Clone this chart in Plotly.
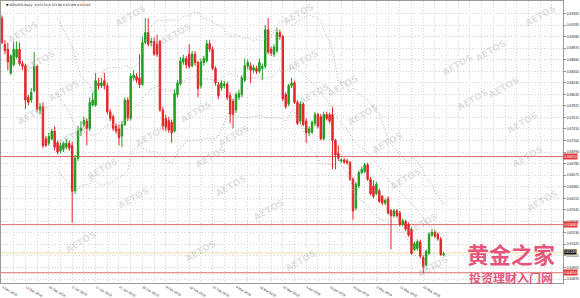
import plotly.graph_objects as go
import pandas as pd

# ---------------- data ----------------
opens = [0.6941,0.6894,0.6885,0.6842,0.6857,0.6871,0.6885,0.6859,0.6855,0.6798,
         0.6793,0.6810,0.6854,0.6775,0.6781,0.6723,0.6715,0.6723,0.6737,0.6716,
         0.6701,0.6704,0.6708,0.6715,0.6711,0.6629,0.6688,0.6737,0.6749,0.6755,
         0.6742,0.6784,0.6784,0.6824,0.6819,0.6828,0.6819,0.6772,0.6763,0.6746,
         0.6741,0.6728,0.6749,0.6793,0.6760,0.6833,0.6836,0.6833,0.6821,0.6897,
         0.6915,0.6897,0.6899,0.6894,0.6899,0.6775,0.6760,0.6756,0.6753,0.6737,
         0.6803,0.6822,0.6862,0.6868,0.6876,0.6855,0.6876,0.6861,0.6819,0.6861,
         0.6864,0.6895,0.6885,0.6850,0.6821,0.6815,0.6819,0.6822,0.6801,0.6791,
         0.6775,0.6798,0.6803,0.6829,0.6854,0.6855,0.6847,0.6850,0.6845,0.6850,
         0.6854,0.6920,0.6885,0.6876,0.6882,0.6915,0.6908,0.6803,0.6786,0.6819,
         0.6824,0.6789,0.6755,0.6786,0.6755,0.6734,0.6735,0.6751,0.6767,0.6763,
         0.6723,0.6767,0.6767,0.6767,0.6720,0.6697,0.6683,0.6685,0.6683,0.6680,
         0.6650,0.6598,0.6638,0.6662,0.6664,0.6676,0.6650,0.6638,0.6624,0.6629,
         0.6619,0.6607,0.6615,0.6593,0.6584,0.6593,0.6589,0.6568,0.6574,0.6568,
         0.6560,0.6523,0.6525,0.6537,0.6509,0.6495,0.6516,0.6549,0.6554,0.6551,
         0.6542,0.6513]
highs = [0.6946,0.6902,0.6897,0.6876,0.6899,0.6899,0.6897,0.6864,0.6859,0.6803,
         0.6815,0.6880,0.6857,0.6788,0.6789,0.6728,0.6734,0.6741,0.6746,0.6720,
         0.6716,0.6718,0.6723,0.6720,0.6718,0.6694,0.6746,0.6755,0.6763,0.6760,
         0.6798,0.6807,0.6842,0.6833,0.6833,0.6842,0.6824,0.6777,0.6767,0.6751,
         0.6749,0.6755,0.6798,0.6798,0.6842,0.6847,0.6842,0.6876,0.6908,0.6941,
         0.6941,0.6906,0.6906,0.6911,0.6902,0.6781,0.6767,0.6763,0.6758,0.6812,
         0.6829,0.6871,0.6875,0.6873,0.6894,0.6882,0.6882,0.6864,0.6868,0.6873,
         0.6902,0.6902,0.6890,0.6854,0.6826,0.6829,0.6828,0.6826,0.6807,0.6796,
         0.6807,0.6812,0.6838,0.6868,0.6866,0.6861,0.6857,0.6855,0.6868,0.6859,
         0.6929,0.6941,0.6890,0.6894,0.6923,0.6920,0.6911,0.6807,0.6822,0.6833,
         0.6828,0.6793,0.6791,0.6789,0.6760,0.6746,0.6756,0.6772,0.6770,0.6768,
         0.6772,0.6772,0.6770,0.6781,0.6723,0.6711,0.6688,0.6688,0.6687,0.6683,
         0.6654,0.6645,0.6666,0.6673,0.6680,0.6680,0.6654,0.6648,0.6645,0.6633,
         0.6622,0.6615,0.6619,0.6596,0.6596,0.6596,0.6593,0.6579,0.6577,0.6572,
         0.6563,0.6537,0.6541,0.6541,0.6513,0.6523,0.6554,0.6560,0.6558,0.6554,
         0.6546,0.6519]
lows = [0.6894,0.6876,0.6847,0.6838,0.6854,0.6868,0.6855,0.6847,0.6777,0.6784,
        0.6788,0.6807,0.6772,0.6767,0.6706,0.6708,0.6711,0.6720,0.6702,0.6695,
        0.6697,0.6699,0.6704,0.6701,0.6572,0.6624,0.6683,0.6728,0.6744,0.6711,
        0.6737,0.6781,0.6781,0.6812,0.6815,0.6812,0.6767,0.6755,0.6737,0.6732,
        0.6711,0.6708,0.6746,0.6755,0.6756,0.6828,0.6824,0.6815,0.6819,0.6894,
        0.6890,0.6890,0.6873,0.6871,0.6772,0.6739,0.6737,0.6734,0.6716,0.6734,
        0.6798,0.6819,0.6857,0.6850,0.6850,0.6852,0.6855,0.6798,0.6814,0.6855,
        0.6861,0.6880,0.6847,0.6819,0.6795,0.6810,0.6814,0.6793,0.6751,0.6742,
        0.6770,0.6793,0.6798,0.6826,0.6849,0.6824,0.6842,0.6840,0.6842,0.6829,
        0.6850,0.6876,0.6873,0.6871,0.6878,0.6902,0.6791,0.6777,0.6782,0.6815,
        0.6786,0.6748,0.6749,0.6746,0.6716,0.6728,0.6732,0.6746,0.6742,0.6720,
        0.6720,0.6756,0.6751,0.6668,0.6668,0.6683,0.6680,0.6678,0.6676,0.6647,
        0.6577,0.6594,0.6634,0.6659,0.6661,0.6647,0.6621,0.6615,0.6621,0.6607,
        0.6603,0.6603,0.6586,0.6523,0.6581,0.6581,0.6565,0.6565,0.6556,0.6546,
        0.6513,0.6520,0.6521,0.6507,0.6480,0.6492,0.6513,0.6546,0.6544,0.6539,
        0.6511,0.6511]
closes = [0.6897,0.6882,0.6862,0.6873,0.6885,0.6885,0.6859,0.6854,0.6793,0.6789,
          0.6807,0.6854,0.6777,0.6781,0.6711,0.6711,0.6727,0.6737,0.6708,0.6699,
          0.6711,0.6715,0.6715,0.6706,0.6628,0.6688,0.6737,0.6742,0.6756,0.6742,
          0.6789,0.6793,0.6828,0.6819,0.6824,0.6819,0.6772,0.6760,0.6742,0.6737,
          0.6725,0.6749,0.6793,0.6760,0.6836,0.6838,0.6829,0.6821,0.6897,0.6915,
          0.6894,0.6899,0.6876,0.6876,0.6775,0.6746,0.6744,0.6739,0.6734,0.6805,
          0.6824,0.6864,0.6868,0.6857,0.6854,0.6876,0.6861,0.6814,0.6862,0.6868,
          0.6895,0.6885,0.6850,0.6824,0.6801,0.6824,0.6822,0.6798,0.6768,0.6767,
          0.6803,0.6805,0.6833,0.6855,0.6861,0.6847,0.6852,0.6845,0.6861,0.6854,
          0.6920,0.6880,0.6878,0.6889,0.6915,0.6908,0.6795,0.6781,0.6819,0.6824,
          0.6789,0.6751,0.6786,0.6749,0.6734,0.6741,0.6753,0.6767,0.6746,0.6723,
          0.6767,0.6760,0.6755,0.6720,0.6694,0.6688,0.6685,0.6681,0.6680,0.6650,
          0.6593,0.6641,0.6662,0.6668,0.6676,0.6650,0.6624,0.6619,0.6641,0.6610,
          0.6607,0.6612,0.6589,0.6584,0.6593,0.6584,0.6568,0.6575,0.6560,0.6549,
          0.6516,0.6534,0.6537,0.6511,0.6492,0.6520,0.6551,0.6554,0.6547,0.6542,
          0.6514,0.6515]

x_tick_bars = [0, 8, 16, 24, 32, 40, 48, 56, 64, 72, 80, 88, 96, 104, 112, 120, 128, 136, 144]
x_tick_labels = ["3 Dec 2018", "14 Dec 2018", "24 Dec 2018", "3 Jan 2019", "11 Jan 2019",
                 "21 Jan 2019", "30 Jan 2019", "8 Feb 2019", "18 Feb 2019", "27 Feb 2019",
                 "8 Mar 2019", "18 Mar 2019", "27 Mar 2019", "5 Apr 2019", "16 Apr 2019",
                 "24 Apr 2019", "3 May 2019", "13 May 2019", "22 May 2019"]
y_tick_labels = ["0.69495", "0.69285", "0.69080", "0.68870", "0.68660", "0.68450",
                 "0.68240", "0.68035", "0.67825", "0.67615", "0.67410", "0.67200",
                 "0.66990", "0.66780", "0.66575", "0.66365", "0.66155", "0.65945",
                 "0.65740", "0.65530", "0.65325", "0.65115", "0.64905", "0.64695"]
level_lines = [0.6691, 0.6568, 0.6481]
level_labels = ["0.66910", "0.65680", "0.64810"]
ask_line = 0.6517
last_label = "0.65149"
header_text = "\u25bc NZDUSD,Daily  0.65134 0.65190 0.65109 0.65149"

# ---------------- figure ----------------
W, H = 580, 298
ML, MR, MT, MB = 0, 17, 0, 5
PW, PH = W - ML - MR, H - MT - MB
Y_RANGE = [0.64625, 0.69721]
X_RANGE = [-0.34, 191.8]

bars = list(range(len(closes)))
cs = pd.Series(closes)
mid = cs.rolling(20).mean()
sd = cs.rolling(20).std(ddof=0)
upper = mid + 2 * sd
lower = mid - 2 * sd

GREEN = "#1f9d1f"
RED = "#e3262b"

fig = go.Figure()
for band in (upper, mid, lower):
    fig.add_trace(go.Scatter(x=bars, y=band, mode="lines",
                             line=dict(color="#a9a9a9", width=1, dash="1px,2px"),
                             hoverinfo="skip", showlegend=False))
fig.add_trace(go.Candlestick(
    x=bars, open=opens, high=highs, low=lows, close=closes,
    increasing=dict(line=dict(color=GREEN, width=1), fillcolor=GREEN),
    decreasing=dict(line=dict(color=RED, width=1), fillcolor=RED),
    whiskerwidth=0, showlegend=False, hoverinfo="skip"))

shapes = []
for lv in level_lines:
    shapes.append(dict(type="line", xref="paper", x0=0, x1=1, yref="y", y0=lv, y1=lv,
                       line=dict(color="#de6b6b", width=1), layer="below"))
shapes.append(dict(type="line", xref="paper", x0=0, x1=1, yref="y", y0=ask_line, y1=ask_line,
                   line=dict(color="#efdca6", width=1), layer="below"))


def px(xp):
    return (xp - ML) / PW


def py(yp):
    return 1 - (yp - MT) / PH


annotations = []
# watermark
wm_pos = [(22, 32), (130, 16), (39, 62), (63, 93), (32, 117), (72, 140), (102, 175),
          (133, 205), (80, 250), (175, 34), (195, 115), (233, 140), (210, 162), (230, 192),
          (268, 217), (298, 14), (302, 62), (314, 97), (342, 88), (362, 118), (387, 148),
          (405, 185), (422, 232), (457, 67), (472, 103), (432, 276), (490, 52), (503, 90),
          (522, 127), (540, 16), (527, 162), (542, 208), (200, 260), (300, 270), (150, 140)]
for (wx, wy) in wm_pos:
    annotations.append(dict(text="<b>AETOS</b>", x=px(wx), y=py(wy), xref="paper", yref="paper",
                            xanchor="center", yanchor="middle",
                            showarrow=False, textangle=-30,
                            font=dict(family="DejaVu Sans", size=9, color="rgba(160,160,160,0.33)")))
# header
annotations.append(dict(text=header_text, x=px(3), y=py(4), xref="paper", yref="paper",
                        xanchor="left", yanchor="middle", showarrow=False,
                        font=dict(family="DejaVu Sans", size=3.2, color="#111111")))
# price boxes on the right axis
for lv, lab in zip(level_lines, level_labels):
    annotations.append(dict(text=lab, x=1, xref="paper", y=lv, yref="y", xanchor="left",
                            yanchor="middle", xshift=0, showarrow=False, bgcolor="#e23a3a",
                            borderpad=0.5,
                            font=dict(family="Liberation Sans", size=3.4, color="white")))
annotations.append(dict(text=last_label, x=1, xref="paper", y=ask_line, yref="y",
                        xanchor="left", yanchor="middle", yshift=1, showarrow=False,
                        bgcolor="#111111",
                        bordercolor="#d8c060", borderwidth=0.5, borderpad=0.3,
                        font=dict(family="Liberation Sans", size=3.4, color="white")))
# logo
annotations.append(dict(text="<b>黄金之家</b>", x=px(511), y=py(262), xref="paper", yref="paper",
                        xanchor="center", yanchor="middle", showarrow=False,
                        font=dict(family="Noto Sans CJK SC", size=22, color="#e4567a")))
annotations.append(dict(text="<b>投资理财入门网</b>", x=px(511), y=py(287), xref="paper", yref="paper",
                        xanchor="center", yanchor="middle", showarrow=False,
                        font=dict(family="Noto Sans CJK SC", size=12, color="#e4567a")))

grid_vals = list(range(0, 192, 4))
grid_text = [x_tick_labels[x_tick_bars.index(v)] if v in x_tick_bars else "" for v in grid_vals]

fig.update_layout(
    width=W, height=H, margin=dict(l=ML, r=MR, t=MT, b=MB),
    paper_bgcolor="white", plot_bgcolor="white",
    shapes=shapes, annotations=annotations, showlegend=False,
    xaxis=dict(range=X_RANGE, tickmode="array", tickvals=grid_vals, ticktext=grid_text,
               showgrid=True, gridcolor="#d2d2d2", griddash="1px,2px", gridwidth=1,
               zeroline=False, showline=True, linecolor="#9a9a9a", linewidth=1, mirror=True,
               ticks="", ticklabelposition="outside right",
               tickfont=dict(family="Liberation Sans", size=3.3, color="#222222"),
               rangeslider=dict(visible=False), fixedrange=True),
    yaxis=dict(range=Y_RANGE, side="right", tickmode="array",
               tickvals=[float(t) for t in y_tick_labels], ticktext=y_tick_labels,
               showgrid=True, gridcolor="#d2d2d2", griddash="1px,2px", gridwidth=1,
               zeroline=False, showline=True, linecolor="#9a9a9a", linewidth=1, mirror=True,
               ticks="outside", ticklen=2, tickcolor="#9a9a9a",
               tickfont=dict(family="Liberation Sans", size=3.4, color="#222222"),
               fixedrange=True),
)

fig.write_html("out.html")
